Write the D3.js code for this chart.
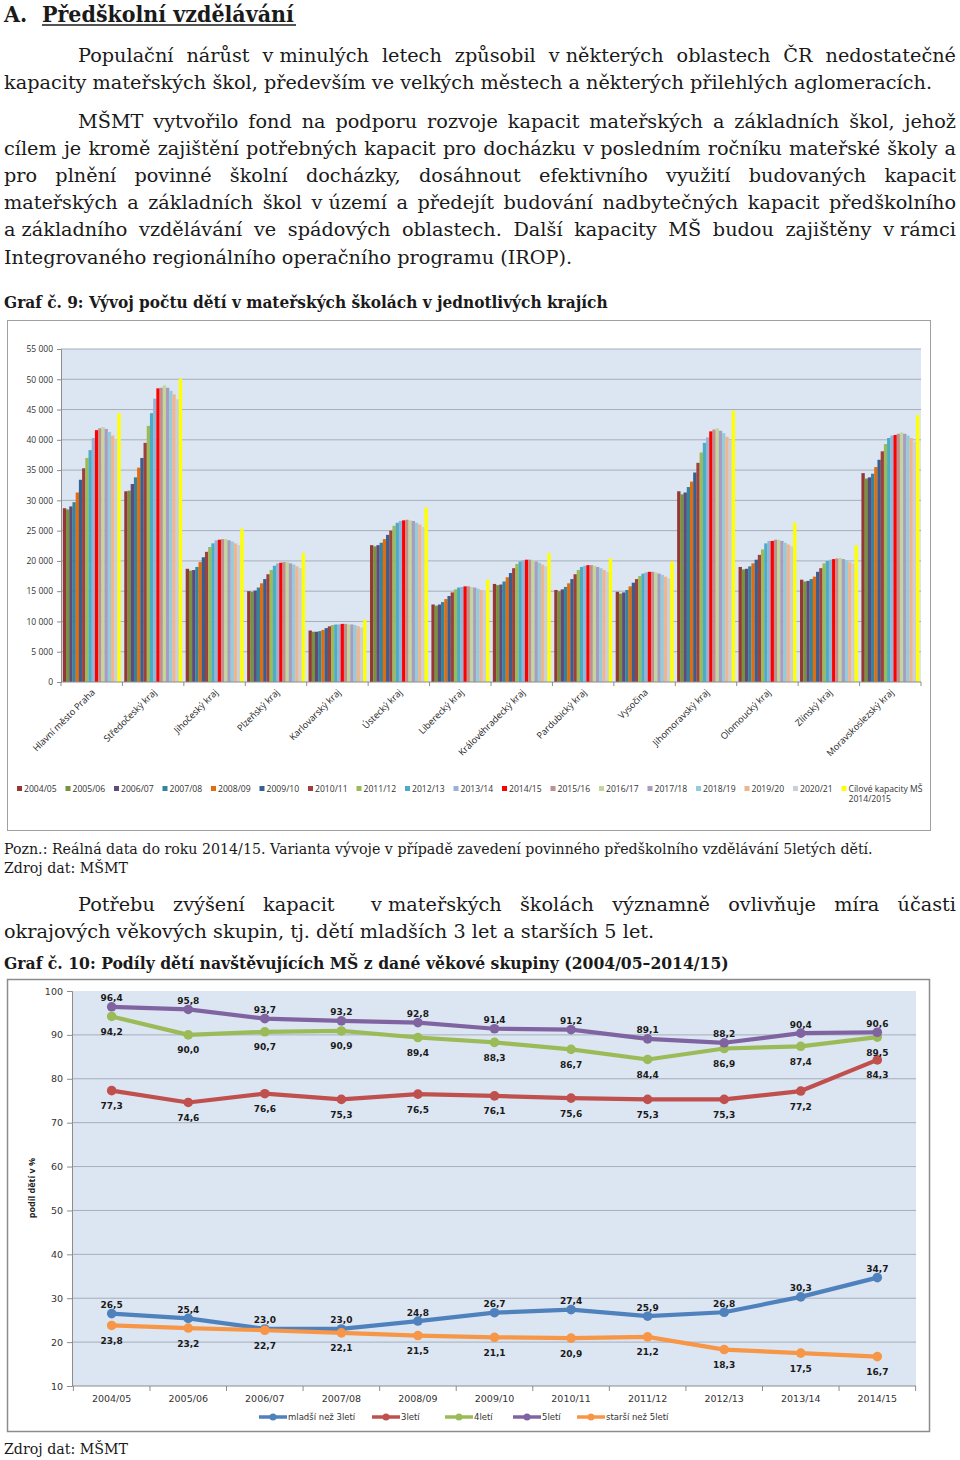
<!DOCTYPE html>
<html>
<head>
<meta charset="utf-8">
<script src="https://cdn.jsdelivr.net/npm/d3@7"></script>
<style>
  body { margin: 0; background: #fff; }
  svg { display: block; }
</style>
</head>
<body>
<svg id="page" width="960" height="1460"></svg>
<script>
// ---- data: graf 9 ----
const regions = ['Hlavní město Praha', 'Středočeský kraj', 'Jihočeský kraj', 'Plzeňský kraj',
  'Karlovarský kraj', 'Ústecký kraj', 'Liberecký kraj', 'Královéhradecký kraj', 'Pardubický kraj',
  'Vysočina', 'Jihomoravský kraj', 'Olomoucký kraj', 'Zlínský kraj', 'Moravskoslezský kraj'];
const years = ['2004/05', '2005/06', '2006/07', '2007/08', '2008/09', '2009/10', '2010/11', '2011/12',
  '2012/13', '2013/14', '2014/15', '2015/16', '2016/17', '2017/18', '2018/19', '2019/20', '2020/21'];
const yearColors = ['#953735', '#77933C', '#604A7B', '#31859C', '#E46C0A', '#376092', '#A0403D', '#9BBB59',
  '#4BACC6', '#95B3D7', '#FF0000', '#C09090', '#C3D69B', '#A89CC0', '#93CDDD', '#F2B48C', '#C8D0DC'];
const targetLabel = ['Cílové kapacity MŠ', '2014/2015'];
const targetColor = '#FFFF00';
// children in MS per region, one row per region, one value per school year
const kids = [
  [28700, 28500, 29000, 29700, 31300, 33400, 35300, 37000, 38300, 40300, 41600, 41900, 42100, 41800, 41300, 40700, 40100],
  [31500, 31600, 32700, 33800, 35400, 37000, 39500, 42300, 44400, 46800, 48500, 48600, 49000, 48600, 48100, 47500, 46700],
  [18700, 18400, 18500, 19000, 19800, 20600, 21500, 22300, 22900, 23400, 23500, 23600, 23600, 23400, 23200, 22900, 22600],
  [15000, 14900, 15100, 15600, 16300, 17000, 17800, 18500, 19200, 19600, 19700, 19800, 19800, 19600, 19400, 19100, 18800],
  [8500, 8300, 8300, 8400, 8600, 8900, 9200, 9400, 9500, 9500, 9600, 9600, 9500, 9500, 9400, 9200, 9000],
  [22600, 22400, 22600, 23000, 23600, 24300, 25000, 25800, 26300, 26600, 26700, 26800, 26700, 26600, 26300, 26000, 25600],
  [12800, 12600, 12800, 13200, 13700, 14200, 14800, 15300, 15600, 15700, 15800, 15800, 15700, 15600, 15400, 15200, 15000],
  [16200, 16000, 16100, 16600, 17300, 18000, 18800, 19500, 19900, 20100, 20200, 20200, 20100, 19900, 19700, 19400, 19100],
  [15200, 15000, 15300, 15700, 16300, 17000, 17800, 18500, 19000, 19200, 19300, 19300, 19200, 19000, 18800, 18500, 18200],
  [14900, 14600, 14800, 15200, 15800, 16400, 17000, 17500, 17900, 18100, 18200, 18200, 18100, 17900, 17700, 17400, 17100],
  [31500, 31000, 31300, 32200, 33100, 34600, 36200, 37900, 39500, 40400, 41400, 41700, 41900, 41500, 41100, 40500, 39900],
  [19000, 18600, 18700, 19100, 19600, 20200, 21000, 21900, 22900, 23300, 23300, 23500, 23500, 23300, 23000, 22700, 22400],
  [16900, 16600, 16700, 17000, 17400, 18200, 18800, 19600, 20000, 20200, 20300, 20400, 20500, 20300, 20100, 19800, 19600],
  [34500, 33600, 33800, 34400, 35500, 36700, 38100, 39300, 40300, 40700, 40800, 41000, 41200, 41000, 40700, 40300, 39700]
];
const targets = [44400, 50100, 25300, 21300, 10300, 28800, 16900, 21300, 20400, 19900, 44800, 26300, 22600, 44100];

// ---- data: graf 10 ----
const schoolYears = ['2004/05', '2005/06', '2006/07', '2007/08', '2008/09', '2009/10', '2010/11', '2011/12', '2012/13', '2013/14', '2014/15'];
const under3 = [26.5, 25.4, 23.0, 23.0, 24.8, 26.7, 27.4, 25.9, 26.8, 30.3, 34.7];
const age3 = [77.3, 74.6, 76.6, 75.3, 76.5, 76.1, 75.6, 75.3, 75.3, 77.2, 84.3];
const age4 = [94.2, 90.0, 90.7, 90.9, 89.4, 88.3, 86.7, 84.4, 86.9, 87.4, 89.5];
const age5 = [96.4, 95.8, 93.7, 93.2, 92.8, 91.4, 91.2, 89.1, 88.2, 90.4, 90.6];
const over5 = [23.8, 23.2, 22.7, 22.1, 21.5, 21.1, 20.9, 21.2, 18.3, 17.5, 16.7];
const ageNames = ['mladší než 3letí', '3letí', '4letí', '5letí', 'starší než 5letí'];
const ageColors = ['#4F81BD', '#C0504D', '#9BBB59', '#8064A2', '#F79646'];
const ageLabelPos = ['above', 'below', 'below', 'above', 'below'];

const cz = d3.formatLocale({ decimal: ',', thousands: '\u00A0', grouping: [3], currency: ['', ''] });

const svg = d3.select('#page');
const SERIF = 'DejaVu Serif';
const SERIF_B = '"DejaVu Serif Condensed", "DejaVu Serif"';
const TXT = '#1a1a1a';

function measure(str, family, size, weight) {
  const t = svg.append('text').attr('font-family', family).attr('font-size', size)
    .attr('font-weight', weight || 'normal').text(str);
  const w = t.node().getComputedTextLength();
  t.remove();
  return w;
}
// font size that makes str exactly `width` wide
function fitSize(str, family, width, weight) {
  return 20 * width / measure(str, family, 20, weight);
}

function plainLine(str, x, y, size, weight, family) {
  return svg.append('text').attr('x', x).attr('y', y)
    .attr('font-family', family || SERIF).attr('font-size', size).attr('font-weight', weight || 'normal')
    .attr('fill', TXT).text(str);
}

function justified(str, xa, xb, y, size) {
  const words = str.split(' ');
  const ws = words.map(w => measure(w, SERIF, size));
  const gap = (xb - xa - d3.sum(ws)) / (words.length - 1);
  const t = svg.append('text').attr('y', y).attr('font-family', SERIF)
    .attr('font-size', size).attr('fill', TXT);
  let x = xa;
  words.forEach((w, i) => {
    t.append('tspan').attr('x', x).text(w);
    x += ws[i] + gap;
  });
}

// ---- heading & text ----
const hSize = fitSize('Předškolní vzdělávání', SERIF_B, 252, 'bold');
plainLine('A.', 4, 22, hSize, 'bold', SERIF_B);
plainLine('Předškolní vzdělávání', 42, 22, hSize, 'bold', SERIF_B);
svg.append('line').attr('x1', 42).attr('x2', 296).attr('y1', 25).attr('y2', 25)
  .attr('stroke', TXT).attr('stroke-width', 1.5);

const bodySize = fitSize('kapacity mateřských škol, především ve velkých městech a některých přilehlých aglomeracích.', SERIF, 929);

justified('Populační nárůst v\u00A0minulých letech způsobil v\u00A0některých oblastech ČR nedostatečné', 78, 956, 62, bodySize);
plainLine('kapacity mateřských škol, především ve velkých městech a některých přilehlých aglomeracích.', 4, 89, bodySize);

justified('MŠMT vytvořilo fond na podporu rozvoje kapacit mateřských a základních škol, jehož', 78, 956, 128, bodySize);
justified('cílem je kromě zajištění potřebných kapacit pro docházku v\u00A0posledním ročníku mateřské školy a', 4, 956, 155, bodySize);
justified('pro plnění povinné školní docházky, dosáhnout efektivního využití budovaných kapacit', 4, 956, 182, bodySize);
justified('mateřských a základních škol v\u00A0území a předejít budování nadbytečných kapacit předškolního', 4, 956, 209, bodySize);
justified('a\u00A0základního vzdělávání ve spádových oblastech. Další kapacity MŠ budou zajištěny v\u00A0rámci', 4, 956, 236, bodySize);
plainLine('Integrovaného regionálního operačního programu (IROP).', 4, 264, bodySize);

const cap9 = 'Graf č. 9: Vývoj počtu dětí v mateřských školách v jednotlivých krajích';
plainLine(cap9, 4, 308, fitSize(cap9, SERIF_B, 604, 'bold'), 'bold', SERIF_B);

const note = 'Pozn.: Reálná data do roku 2014/15. Varianta vývoje v případě zavedení povinného předškolního vzdělávání 5letých dětí.';
const noteSize = fitSize(note, SERIF, 869);
plainLine(note, 4, 854, noteSize);
plainLine('Zdroj dat: MŠMT', 4, 873, noteSize);

justified('Potřebu zvýšení kapacit  v\u00A0mateřských školách významně ovlivňuje míra účasti', 78, 956, 911, bodySize);
plainLine('okrajových věkových skupin, tj. dětí mladších 3 let a starších 5 let.', 4, 938, bodySize);

const cap10 = 'Graf č. 10: Podíly dětí navštěvujících MŠ z dané věkové skupiny (2004/05–2014/15)';
plainLine(cap10, 4, 969, fitSize(cap10, SERIF_B, 725, 'bold'), 'bold', SERIF_B);
plainLine('Zdroj dat: MŠMT', 4, 1454, noteSize);

// ---- graf 9: grouped bars ----
const SANS = 'Open Sans';
const g1 = svg.append('g');
g1.append('rect').attr('x', 7.5).attr('y', 320.5).attr('width', 923).attr('height', 510)
  .attr('fill', '#fff').attr('stroke', '#a0a0a0');

const p1 = { left: 61, right: 921, top: 349, bottom: 682 };
const x0 = d3.scaleBand().domain(regions).range([p1.left, p1.right]).paddingInner(0.06).paddingOuter(0.03);
const x1 = d3.scaleBand().domain(d3.range(years.length + 1)).range([0, x0.bandwidth()]);
const y1 = d3.scaleLinear().domain([0, 55000]).range([p1.bottom, p1.top]);

g1.append('rect').attr('x', p1.left).attr('y', p1.top).attr('width', p1.right - p1.left)
  .attr('height', p1.bottom - p1.top).attr('fill', '#DCE6F2');

const ticks1 = d3.range(0, 55001, 5000);
g1.selectAll('line.grid').data(ticks1.slice(1)).join('line').attr('class', 'grid')
  .attr('x1', p1.left).attr('x2', p1.right).attr('y1', d => y1(d)).attr('y2', d => y1(d))
  .attr('stroke', '#A6AEBB').attr('stroke-width', 1);

const groups = g1.selectAll('g.region').data(regions).join('g').attr('class', 'region')
  .attr('transform', d => `translate(${x0(d)},0)`);
groups.selectAll('rect').data((d, i) => kids[i].map((v, j) => ({ v, j })).concat([{ v: targets[i], j: years.length }]))
  .join('rect')
  .attr('x', d => x1(d.j)).attr('width', x1.bandwidth() + 0.15)
  .attr('y', d => y1(d.v)).attr('height', d => y1(0) - y1(d.v))
  .attr('fill', d => d.j < years.length ? yearColors[d.j] : targetColor);

const yAxis1 = g1.append('g').attr('transform', `translate(${p1.left},0)`)
  .call(d3.axisLeft(y1).tickValues(ticks1).tickSize(4).tickPadding(4).tickFormat(cz.format(',')));
yAxis1.selectAll('text').attr('font-family', SANS).attr('font-size', 8.5).attr('fill', '#333');
yAxis1.selectAll('line, path').attr('stroke', '#8c8c8c');

g1.append('line').attr('x1', p1.left).attr('x2', p1.right).attr('y1', p1.bottom).attr('y2', p1.bottom)
  .attr('stroke', '#8c8c8c');
g1.selectAll('line.xt').data(d3.range(regions.length + 1)).join('line').attr('class', 'xt')
  .attr('x1', i => p1.left + i * x0.step()).attr('x2', i => p1.left + i * x0.step())
  .attr('y1', p1.bottom).attr('y2', p1.bottom + 4).attr('stroke', '#8c8c8c');

g1.selectAll('text.xl').data(regions).join('text').attr('class', 'xl')
  .attr('transform', d => `translate(${x0(d) + x0.bandwidth() / 2 + 4},${p1.bottom + 11}) rotate(-45)`)
  .attr('text-anchor', 'end').attr('font-family', SANS).attr('font-size', 9.2).attr('fill', '#222')
  .text(d => d);

const leg1 = g1.selectAll('g.leg').data(years.concat(['target'])).join('g').attr('class', 'leg')
  .attr('transform', (d, i) => `translate(${17 + i * 48.5},786)`);
leg1.append('rect').attr('width', 5).attr('height', 5)
  .attr('fill', (d, i) => i < years.length ? yearColors[i] : targetColor);
leg1.append('text').attr('x', 7).attr('y', 6).attr('font-family', SANS).attr('font-size', 8.6)
  .attr('fill', '#333')
  .each(function (d) {
    const t = d3.select(this);
    if (d === 'target') {
      t.append('tspan').attr('x', 7).text(targetLabel[0]);
      t.append('tspan').attr('x', 7).attr('dy', 10).text(targetLabel[1]);
    } else t.text(d);
  });

// ---- graf 10: lines ----
const g2 = svg.append('g');
g2.append('rect').attr('x', 7.5).attr('y', 979.5).attr('width', 922).attr('height', 452)
  .attr('fill', '#fff').attr('stroke', '#8c8c8c').attr('stroke-width', 1.5);

const p2 = { left: 72, right: 916, top: 991, bottom: 1386 };
const x2 = d3.scalePoint().domain(schoolYears).range([73.4, 915.6]).padding(0.5);
const y2 = d3.scaleLinear().domain([10, 100]).range([p2.bottom, p2.top]);

g2.append('rect').attr('x', p2.left).attr('y', p2.top).attr('width', p2.right - p2.left)
  .attr('height', p2.bottom - p2.top).attr('fill', '#DCE6F2');
const ticks2 = d3.range(10, 101, 10);
g2.selectAll('line.grid').data(ticks2.slice(1, -1)).join('line').attr('class', 'grid')
  .attr('x1', p2.left).attr('x2', p2.right).attr('y1', d => y2(d)).attr('y2', d => y2(d))
  .attr('stroke', '#A6AEBB');

const yAxis2 = g2.append('g').attr('transform', `translate(${p2.left},0)`)
  .call(d3.axisLeft(y2).tickValues(ticks2).tickSize(5).tickPadding(4));
yAxis2.selectAll('text').attr('font-family', 'DejaVu Sans').attr('font-size', 9.5).attr('fill', '#333');
yAxis2.selectAll('line, path').attr('stroke', '#8c8c8c');

g2.append('line').attr('x1', p2.left).attr('x2', p2.right).attr('y1', p2.bottom).attr('y2', p2.bottom)
  .attr('stroke', '#8c8c8c');
const step2 = x2.step();
g2.selectAll('line.xt').data(d3.range(schoolYears.length + 1)).join('line').attr('class', 'xt')
  .attr('x1', i => x2(schoolYears[0]) - step2 / 2 + i * step2).attr('x2', i => x2(schoolYears[0]) - step2 / 2 + i * step2)
  .attr('y1', p2.bottom).attr('y2', p2.bottom + 5).attr('stroke', '#8c8c8c');
g2.selectAll('text.xl').data(schoolYears).join('text').attr('class', 'xl')
  .attr('x', d => x2(d)).attr('y', p2.bottom + 16).attr('text-anchor', 'middle')
  .attr('font-family', 'DejaVu Sans').attr('font-size', 9.5).attr('fill', '#333').text(d => d);

g2.append('text').attr('transform', `translate(35,1188) rotate(-90)`).attr('text-anchor', 'middle')
  .attr('font-family', SANS).attr('font-size', 9).attr('font-weight', 'bold').attr('fill', '#222')
  .text('podíl dětí v %');

const ageSeries = [under3, age3, age4, age5, over5];
const line2 = d3.line().x((d, i) => x2(schoolYears[i])).y(d => y2(d));
ageSeries.forEach((vals, k) => {
  const s = g2.append('g');
  s.append('path').attr('d', line2(vals)).attr('fill', 'none')
    .attr('stroke', ageColors[k]).attr('stroke-width', 4.2).attr('stroke-linejoin', 'round');
  s.selectAll('circle').data(vals).join('circle')
    .attr('cx', (d, i) => x2(schoolYears[i])).attr('cy', d => y2(d)).attr('r', 4.8)
    .attr('fill', ageColors[k]);
});
ageSeries.forEach((vals, k) => {
  g2.append('g').selectAll('text').data(vals).join('text')
    .attr('x', (d, i) => x2(schoolYears[i]))
    .attr('y', d => ageLabelPos[k] === 'above' ? y2(d) - 5.5 : y2(d) + 18.5)
    .attr('text-anchor', 'middle').attr('font-family', 'DejaVu Sans').attr('font-size', 9)
    .attr('font-weight', 'bold').attr('fill', '#1a1a1a')
    .text(d => cz.format('.1f')(d));
});

const legX = [259, 372, 445, 513, 577];
const leg2 = g2.selectAll('g.leg').data(ageNames).join('g').attr('class', 'leg')
  .attr('transform', (d, i) => `translate(${legX[i]},1417)`);
leg2.append('line').attr('x1', 0).attr('x2', 28).attr('stroke', (d, i) => ageColors[i]).attr('stroke-width', 3.5);
leg2.append('circle').attr('cx', 14).attr('r', 3.5).attr('fill', (d, i) => ageColors[i]);
leg2.append('text').attr('x', 29).attr('y', 3).attr('font-family', 'DejaVu Sans').attr('font-size', 8.5)
  .attr('fill', '#333').text(d => d);
</script>
</body>
</html>
